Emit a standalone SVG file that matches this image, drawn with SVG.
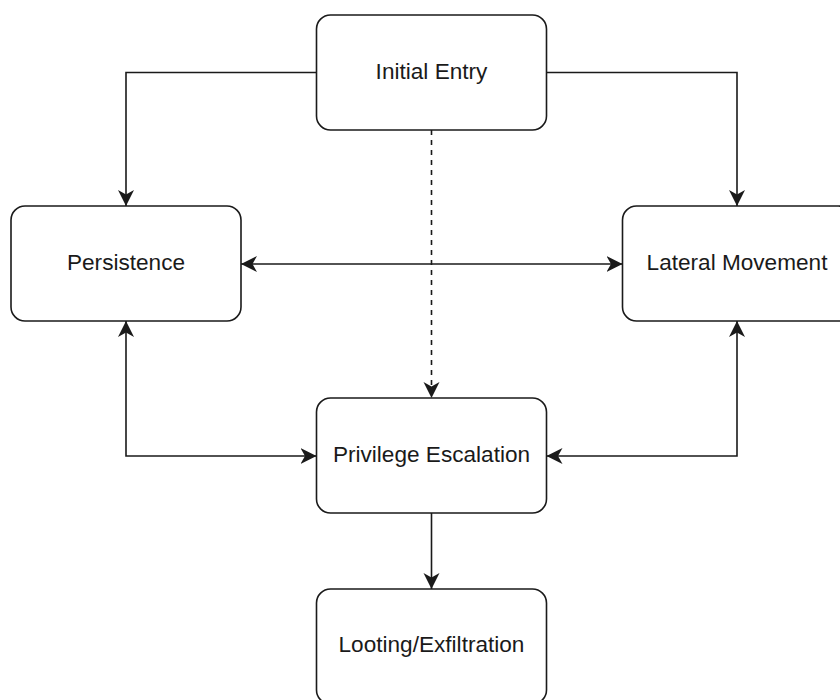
<svg xmlns="http://www.w3.org/2000/svg" width="840" height="700" viewBox="0 0 840 700">
  <style>
    .box { fill: #ffffff; stroke: #1a1a1a; stroke-width: 1.6; }
    .lbl { font-family: "Liberation Sans", Arial, sans-serif; font-size: 22.6px; fill: #1a1a1a; text-anchor: middle; }
    .edge { fill: none; stroke: #1a1a1a; stroke-width: 1.6; }
    .dash { stroke-dasharray: 5 5; }
  </style>
  <defs>
    <marker id="arrowEnd" markerUnits="userSpaceOnUse" markerWidth="17" markerHeight="17" viewBox="0 0 17 17" refX="16" refY="8.5" orient="auto">
      <path d="M0,0.5 L16,8.5 L0,16.5 L4.5,8.5 Z" fill="#1a1a1a"/>
    </marker>
    <marker id="arrowStart" markerUnits="userSpaceOnUse" markerWidth="17" markerHeight="17" viewBox="0 0 17 17" refX="1" refY="8.5" orient="auto">
      <path d="M17,0.5 L1,8.5 L17,16.5 L12.5,8.5 Z" fill="#1a1a1a"/>
    </marker>
  </defs>
  <rect width="840" height="700" fill="#ffffff"/>

  <g id="connectors">
    <path class="edge" d="M316.5,72.5 H126 V206" marker-end="url(#arrowEnd)"/>
    <path class="edge" d="M546.5,72.5 H737 V206" marker-end="url(#arrowEnd)"/>
    <path class="edge dash" d="M431.5,130 V398" marker-end="url(#arrowEnd)"/>
    <path class="edge" d="M241,264 H622.5" marker-start="url(#arrowStart)" marker-end="url(#arrowEnd)"/>
    <path class="edge" d="M126,321 V456 H316.5" marker-start="url(#arrowStart)" marker-end="url(#arrowEnd)"/>
    <path class="edge" d="M737,321 V456 H546.5" marker-start="url(#arrowStart)" marker-end="url(#arrowEnd)"/>
    <path class="edge" d="M431.5,513 V589" marker-end="url(#arrowEnd)"/>
  </g>

  <g id="initial-entry">
    <rect class="box" x="316.5" y="15" width="230" height="115" rx="14"/>
    <text class="lbl" x="431.5" y="79">Initial Entry</text>
  </g>
  <g id="persistence">
    <rect class="box" x="11" y="206" width="230" height="115" rx="14"/>
    <text class="lbl" x="126" y="270">Persistence</text>
  </g>
  <g id="lateral-movement">
    <rect class="box" x="622.5" y="206" width="230" height="115" rx="14"/>
    <text class="lbl" x="737" y="270">Lateral Movement</text>
  </g>
  <g id="privilege-escalation">
    <rect class="box" x="316.5" y="398" width="230" height="115" rx="14"/>
    <text class="lbl" x="431.5" y="462">Privilege Escalation</text>
  </g>
  <g id="looting-exfiltration">
    <rect class="box" x="316.5" y="589" width="230" height="115" rx="14"/>
    <text class="lbl" x="431.5" y="652">Looting/Exfiltration</text>
  </g>
</svg>
